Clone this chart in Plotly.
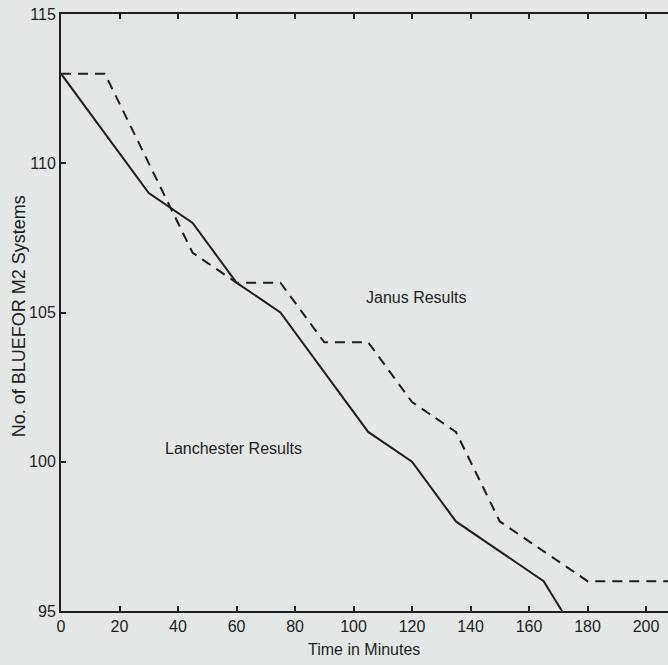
import plotly.graph_objects as go

# Data
lanchester_t = [0, 30, 45, 60, 75, 90, 105, 120, 135, 150, 165, 180]
lanchester_n = [113, 109, 108, 106, 105, 103, 101, 100, 98, 97, 96, 93.6]

janus_t = [0, 15, 45, 60, 75, 90, 105, 120, 135, 150, 165, 180, 195, 210]
janus_n = [113, 113, 107, 106, 106, 104, 104, 102, 101, 98, 97, 96, 96, 96]

x_ticks = [0, 20, 40, 60, 80, 100, 120, 140, 160, 180, 200]
y_ticks = [95, 100, 105, 110, 115]

labels = [("Janus Results", 121.5, 105.5), ("Lanchester Results", 59.0, 100.43)]
x_title = "Time in Minutes"
y_title = "No. of BLUEFOR M2 Systems"

BG = "#e3e8e7"
INK = "#1e1e1e"
FONT = "Liberation Sans, Arial, Helvetica, sans-serif"

fig = go.Figure()
fig.add_trace(go.Scatter(x=lanchester_t, y=lanchester_n, mode="lines",
                         line=dict(color=INK, width=2), showlegend=False))
fig.add_trace(go.Scatter(x=janus_t, y=janus_n, mode="lines",
                         line=dict(color=INK, width=2, dash="10px,7px"), showlegend=False))

for txt, xx, yy in labels:
    fig.add_annotation(x=xx, y=yy, text=txt, showarrow=False,
                       font=dict(family=FONT, size=16, color=INK))

# axis titles placed as paper-anchored text
fig.add_annotation(xref="paper", yref="paper", x=0.499, y=-0.0653, text=x_title,
                   showarrow=False, xanchor="center", yanchor="middle",
                   font=dict(family=FONT, size=16, color=INK))
fig.add_annotation(xref="paper", yref="paper", x=-0.069, y=0.494, text=y_title,
                   showarrow=False, textangle=-90, xanchor="center", yanchor="middle",
                   font=dict(family=FONT, size=18, color=INK))

fig.update_layout(
    width=668, height=665,
    margin=dict(l=61, r=0, t=14, b=54),
    paper_bgcolor=BG, plot_bgcolor=BG,
    font=dict(family=FONT, size=16, color=INK),
    xaxis=dict(range=[0, 207.5], tickvals=x_ticks, ticks="inside", ticklen=5,
               tickwidth=1.5, tickcolor=INK, showline=True, linecolor=INK, linewidth=2,
               mirror="ticks", showgrid=False, zeroline=False, automargin=False,
               tickfont=dict(size=16)),
    yaxis=dict(range=[95, 115], tickvals=y_ticks, ticks="inside", ticklen=5,
               tickwidth=1.5, tickcolor=INK, showline=True, linecolor=INK, linewidth=2,
               mirror=False, showgrid=False, zeroline=False, automargin=False,
               tickfont=dict(size=16)),
)

fig.write_html(
    "out.html",
    config={"displayModeBar": False},
    post_script="document.body.style.margin='0';document.body.style.background='%s';" % BG,
)
